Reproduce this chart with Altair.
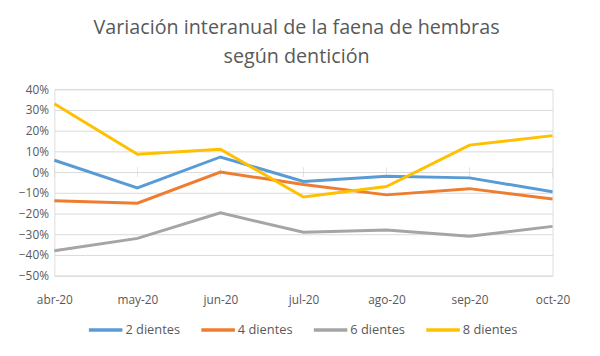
import altair as alt
import pandas as pd

months = ["abr-20", "may-20", "jun-20", "jul-20", "ago-20", "sep-20", "oct-20"]
series_names = ["2 dientes", "4 dientes", "6 dientes", "8 dientes"]
d2 = [0.057, -0.076, 0.073, -0.045, -0.020, -0.028, -0.095]
d4 = [-0.138, -0.150, 0.000, -0.060, -0.110, -0.080, -0.130]
d6 = [-0.380, -0.320, -0.197, -0.290, -0.280, -0.310, -0.262]
d8 = [0.330, 0.086, 0.110, -0.120, -0.070, 0.130, 0.176]
colors = ["#5B9BD5", "#ED7D31", "#A5A5A5", "#FFC000"]
y_ticks = [0.4, 0.3, 0.2, 0.1, 0.0, -0.1, -0.2, -0.3, -0.4, -0.5]

rows = []
for name, vals in zip(series_names, [d2, d4, d6, d8]):
    for m, v in zip(months, vals):
        rows.append({"mes": m, "serie": name, "valor": v})
df = pd.DataFrame(rows)
ticks_df = pd.DataFrame({"mes": months, "valor": [0.0] * len(months)})

FONT = "Open Sans"
TXT = "#595959"

x_enc = alt.X("mes:N", sort=months, scale=alt.Scale(type="point", padding=0),
              axis=alt.Axis(title=None, labelAngle=0, domain=False, ticks=False, grid=False,
                            labelFont=FONT, labelFontSize=12, labelColor=TXT, labelPadding=19))
y_enc = alt.Y("valor:Q", scale=alt.Scale(domain=[-0.5, 0.4], nice=False, zero=False),
              axis=alt.Axis(title=None, values=y_ticks, format=".0%", domain=False, ticks=False,
                            grid=True, gridColor="#D9D9D9", gridWidth=1, labelOverlap=False,
                            labelFont=FONT, labelFontSize=12, labelColor=TXT, labelPadding=6))

tick_marks = alt.Chart(ticks_df).mark_tick(color="#D9D9D9", thickness=1, size=10,
                                           orient="vertical").encode(
    x=x_enc, y=y_enc,
)

lines = alt.Chart(df).mark_line(strokeWidth=3).encode(
    x=x_enc,
    y=y_enc,
    color=alt.Color("serie:N", sort=series_names,
                    scale=alt.Scale(domain=series_names, range=colors),
                    legend=alt.Legend(title=None, orient="none", direction="horizontal",
                                      legendX=33, legendY=225, symbolType="stroke",
                                      symbolSize=1156, symbolStrokeWidth=3.5,
                                      labelFont=FONT, labelFontSize=13, labelColor=TXT,
                                      columnPadding=14, labelOffset=1)),
)

chart = alt.layer(tick_marks, lines).properties(
    width=505, height=189,
    autosize=alt.AutoSizeParams(type="none"),
    padding={"left": 47, "top": 80, "right": 40, "bottom": 71},
    title=alt.TitleParams(["Variación interanual de la faena de hembras", "según dentición"],
                          font=FONT, fontSize=20, fontWeight="normal", color=TXT,
                          anchor="middle", lineHeight=29, offset=17, dx=-7),
).configure_view(stroke=None).configure(background="white")

chart.save("out.html", embed_options={"renderer": "svg", "actions": False})
